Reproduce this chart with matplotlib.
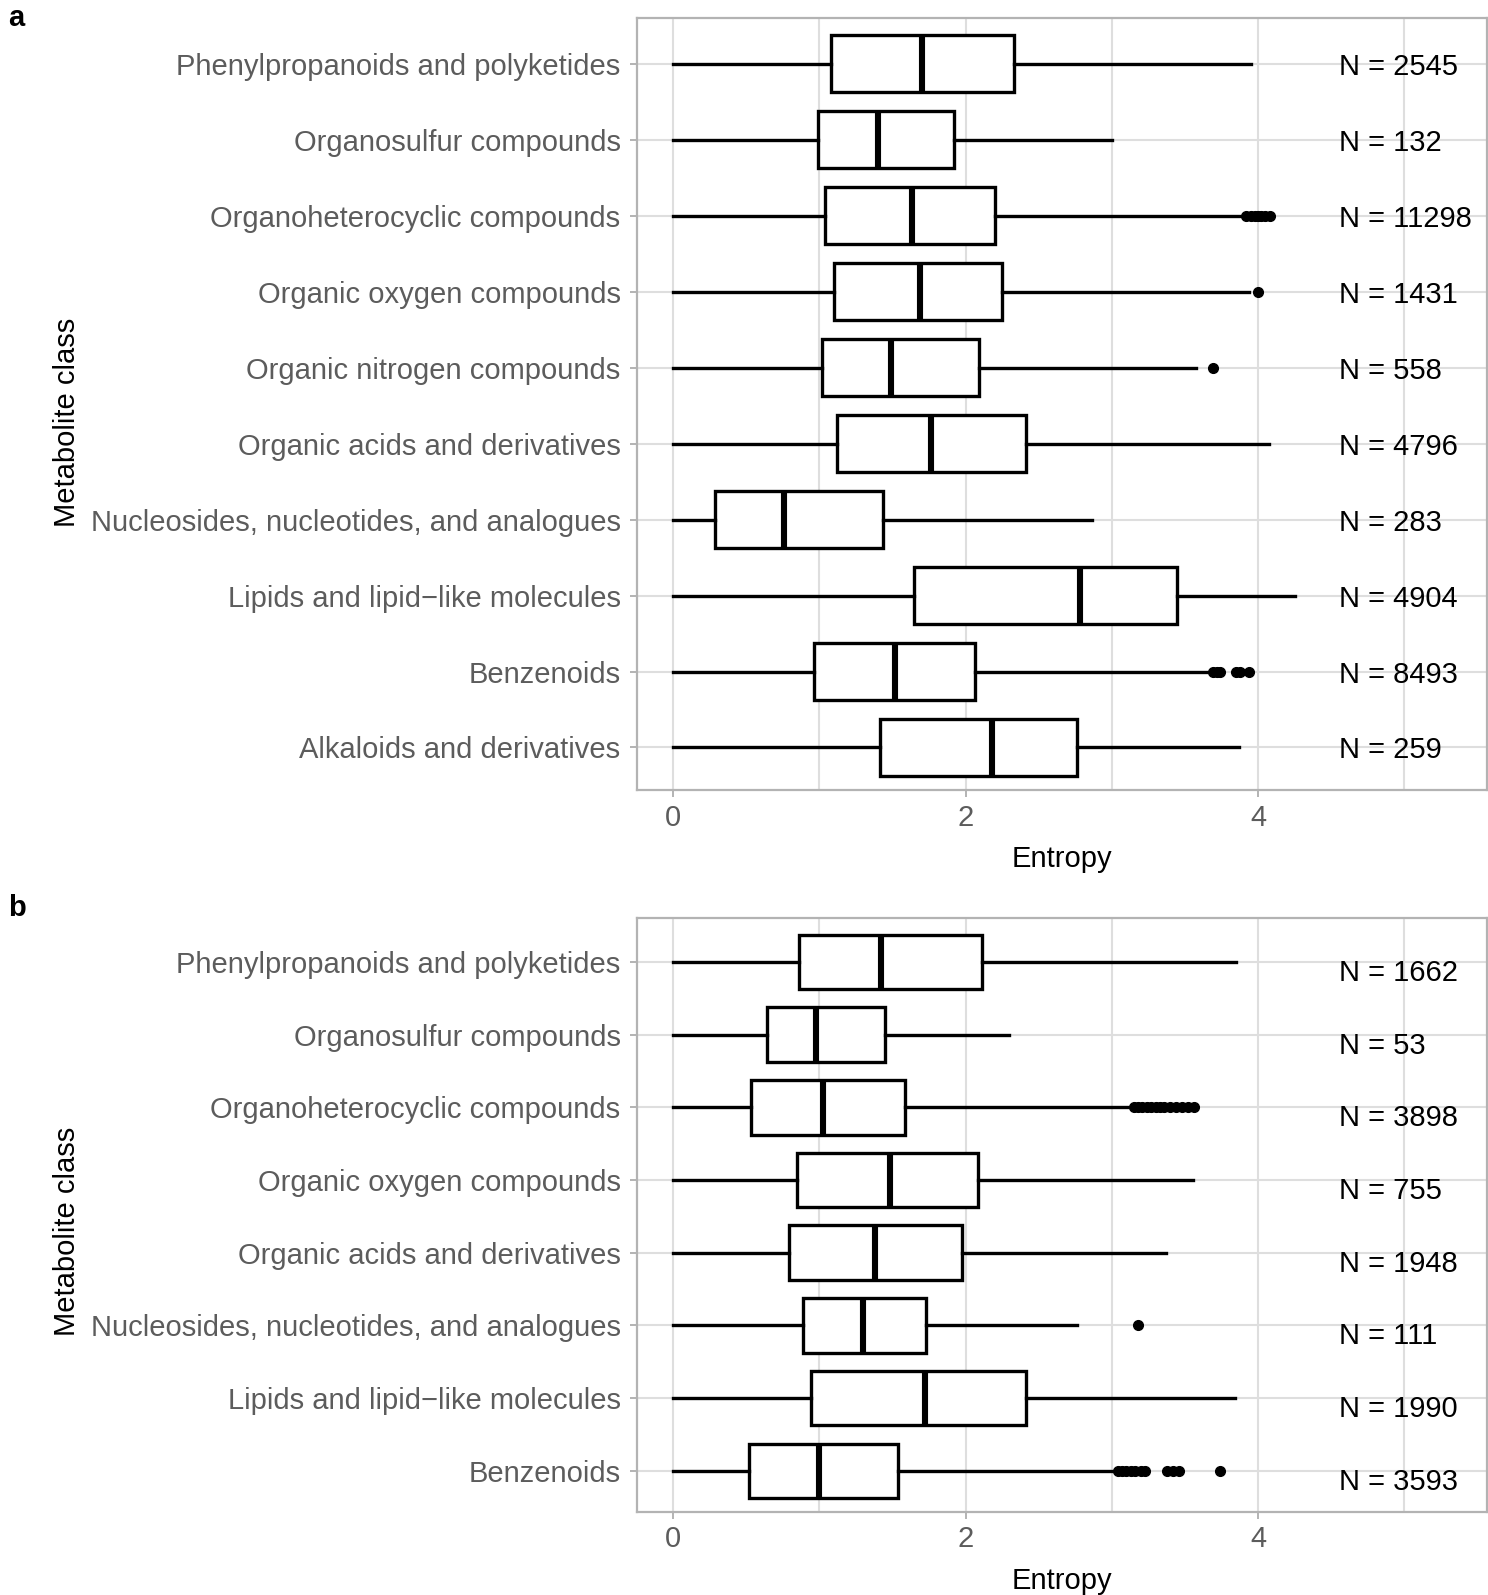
import matplotlib
matplotlib.use("Agg")
import matplotlib.pyplot as plt

plt.rcParams['font.family'] = ['Liberation Sans', 'DejaVu Sans']

# panel a, listed top to bottom
classes_a = ["Phenylpropanoids and polyketides", "Organosulfur compounds",
             "Organoheterocyclic compounds", "Organic oxygen compounds",
             "Organic nitrogen compounds", "Organic acids and derivatives",
             "Nucleosides, nucleotides, and analogues",
             "Lipids and lipid\u2212like molecules", "Benzenoids",
             "Alkaloids and derivatives"]
whislo_a = [0, 0, 0, 0, 0, 0, 0, 0, 0, 0]
q1_a = [1.08, 0.99, 1.04, 1.10, 1.02, 1.12, 0.285, 1.65, 0.965, 1.415]
med_a = [1.70, 1.40, 1.63, 1.69, 1.49, 1.765, 0.76, 2.785, 1.515, 2.18]
q3_a = [2.33, 1.92, 2.20, 2.25, 2.09, 2.41, 1.435, 3.445, 2.065, 2.765]
whishi_a = [3.95, 3.0, 3.90, 3.94, 3.575, 4.075, 2.865, 4.255, 3.66, 3.87]
fliers_a = [[], [], [3.92, 3.95, 3.98, 4.0, 4.02, 4.05, 4.08], [4.0], [3.69],
            [], [], [], [3.69, 3.72, 3.74, 3.85, 3.88, 3.94], []]
n_a = [2545, 132, 11298, 1431, 558, 4796, 283, 4904, 8493, 259]

# panel b, listed top to bottom
classes_b = ["Phenylpropanoids and polyketides", "Organosulfur compounds",
             "Organoheterocyclic compounds", "Organic oxygen compounds",
             "Organic acids and derivatives",
             "Nucleosides, nucleotides, and analogues",
             "Lipids and lipid\u2212like molecules", "Benzenoids"]
whislo_b = [0, 0, 0, 0, 0, 0, 0, 0]
q1_b = [0.86, 0.64, 0.53, 0.845, 0.795, 0.885, 0.94, 0.52]
med_b = [1.42, 0.975, 1.025, 1.48, 1.38, 1.30, 1.72, 1.00]
q3_b = [2.11, 1.45, 1.585, 2.085, 1.975, 1.73, 2.415, 1.535]
whishi_b = [3.85, 2.295, 3.12, 3.555, 3.37, 2.76, 3.84, 3.01]
fliers_b = [[], [],
            [3.15, 3.18, 3.21, 3.24, 3.27, 3.30, 3.33, 3.36, 3.40, 3.44, 3.48, 3.52, 3.56],
            [], [], [3.18], [],
            [3.04, 3.07, 3.10, 3.13, 3.16, 3.20, 3.23, 3.38, 3.42, 3.46, 3.74]]
n_b = [1662, 53, 3898, 755, 1948, 111, 1990, 3593]

W, H = 1488, 1595
fig = plt.figure(figsize=(W / 100, H / 100), dpi=100)

GRID = '#DEDEDE'
BORDER = '#B3B3B3'
TICKTXT = '#5c5c5c'
FS = 21


def panel(rect, classes, lo, q1, med, q3, hi, fl, ns, ylim, n_dy):
    ax = fig.add_axes(rect)
    k = len(classes)
    pos = [k - i for i in range(k)]
    stats = []
    for i in range(k):
        stats.append(dict(whislo=lo[i], q1=q1[i], med=med[i], q3=q3[i],
                          whishi=hi[i], fliers=fl[i]))
    ax.bxp(stats, positions=pos, widths=0.75, orientation='horizontal',
           patch_artist=True, showcaps=False,
           boxprops=dict(facecolor='white', edgecolor='black', linewidth=2.4),
           medianprops=dict(color='black', linewidth=4.4, solid_capstyle='butt'),
           whiskerprops=dict(color='black', linewidth=2.4),
           flierprops=dict(marker='o', markerfacecolor='black',
                           markeredgecolor='black', markersize=7))
    for i in range(k):
        ax.text(4.557, pos[i] + n_dy, f"N = {ns[i]}", ha='left',
                va='center_baseline', fontsize=FS, color='black')
    ax.set_xlim(-0.251, 5.563)
    ax.set_ylim(*ylim)
    ax.set_xticks([0, 2, 4])
    ax.set_xticks([1, 3, 5], minor=True)
    ax.set_yticks(pos)
    ax.set_yticklabels(classes)
    ax.grid(True, which='both', axis='x', color=GRID, linewidth=1.5)
    ax.grid(True, which='major', axis='y', color=GRID, linewidth=1.5)
    ax.set_axisbelow(True)
    ax.tick_params(axis='both', which='major', colors=BORDER, labelcolor=TICKTXT,
                   labelsize=FS, length=5, width=1.4, pad=5)
    ax.tick_params(axis='y', which='major', pad=6.5)
    ax.tick_params(axis='x', which='minor', length=0)
    for s in ax.spines.values():
        s.set_color(BORDER)
        s.set_linewidth(1.6)
    ax.set_xlabel('Entropy', fontsize=FS, color='black', labelpad=9.5)
    ax.set_ylabel('Metabolite class', fontsize=FS, color='black')
    return ax


ax_a = panel([636.5 / W, 1 - 790 / H, 850 / W, (790 - 18.3) / H],
             classes_a, whislo_a, q1_a, med_a, q3_a, whishi_a, fliers_a, n_a,
             (0.44, 10.6), 0.0)
ax_b = panel([636.5 / W, 1 - 1511.5 / H, 850 / W, (1511.5 - 917.5) / H],
             classes_b, whislo_b, q1_b, med_b, q3_b, whishi_b, fliers_b, n_b,
             (0.44, 8.61), -0.11)

ax_a.yaxis.set_label_coords(81 / W, 1 - 422 / H, transform=fig.transFigure)
ax_b.yaxis.set_label_coords(81 / W, 1 - 1231 / H, transform=fig.transFigure)

fig.text(8 / W, 1 - 18 / H, 'a', fontsize=FS, fontweight='bold', va='center', ha='left')
fig.text(8 / W, 1 - 908 / H, 'b', fontsize=FS, fontweight='bold', va='center', ha='left')

fig.savefig('out.png', dpi=100)
